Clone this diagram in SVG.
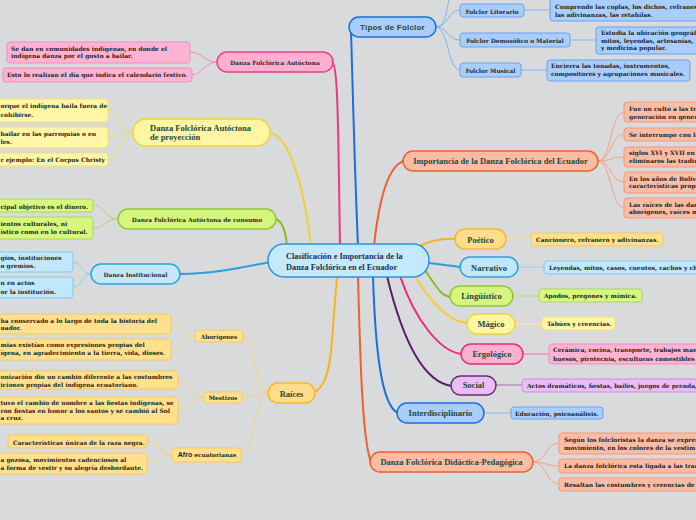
<svg xmlns="http://www.w3.org/2000/svg" width="696" height="520" viewBox="0 0 696 520">
<style>
.t{font-family:"Liberation Serif",serif;font-weight:bold;font-size:8.5px;fill:#1d4a3a}
.c{font-family:"Liberation Serif",serif;font-weight:bold;font-size:8.3px;fill:#1e2f4f}
.s{font-family:"DejaVu Serif",serif;font-weight:bold;font-size:5.8px;fill:#2a2a2a}
.l{font-family:"DejaVu Serif",serif;font-weight:bold;font-size:5.95px;fill:#222}
.ss{font-family:"Liberation Sans",Arial,sans-serif;font-weight:bold;font-size:7px;fill:#222}
.tp{font-family:"Liberation Sans",Arial,sans-serif;font-weight:bold;font-size:8px;fill:#1d4a3a;letter-spacing:0.2px}
.e{text-anchor:end}
.m{text-anchor:middle}
.cn path{fill:none}
.main{stroke-width:2}
.thin{stroke-width:1}
.pk{fill:#ffb0d0;stroke:#ee3c84;stroke-width:1.5}
.pkl{fill:#ffb3d3;stroke:#f48cbc;stroke-width:1}
.yl{fill:#fff5a5;stroke:#f0d53a;stroke-width:1.5}
.yll{fill:#fff6a8;stroke:#f4e070;stroke-width:1}
.gr{fill:#d5f57c;stroke:#8fc63e;stroke-width:1.5}
.grl{fill:#d7f77e;stroke:#acd858;stroke-width:1}
.lb{fill:#c2e7fb;stroke:#2aa3e0;stroke-width:1.5}
.lbl{fill:#c2e7fb;stroke:#7fcaf0;stroke-width:1}
.go{fill:#ffdd8a;stroke:#f6b828;stroke-width:1.5}
.gol{fill:#ffe08c;stroke:#f7c860;stroke-width:1}
.bl{fill:#a9cdfc;stroke:#1c6fe0;stroke-width:1.5}
.bll{fill:#a9cdfc;stroke:#6aa2f0;stroke-width:1}
.sa{fill:#fbbca6;stroke:#f0602c;stroke-width:1.5}
.sal{fill:#fbbca6;stroke:#f3987a;stroke-width:1}
.pu{fill:#ecbcf8;stroke:#6a2a7a;stroke-width:1.5}
.pul{fill:#ecbcf8;stroke:#c690e0;stroke-width:1}
.mp{fill:#ffb0d0;stroke:#f0287a;stroke-width:1.5}
</style>
<rect x="0" y="0" width="696" height="520" fill="#d9dadc"/>

<g id="connectors" class="cn">
  <path class="main" stroke="#ec3a80" d="M332,62 C338,64 338,120 340,246"/>
  <path class="main" stroke="#f0d030" d="M270,133 C285,135 302,170 311,246"/>
  <path class="main" stroke="#8ab82c" d="M276,219 C283,222 286,232 287,247"/>
  <path class="main" stroke="#2a9fe0" d="M180,274 C210,274 240,268 270,262"/>
  <path class="main" stroke="#1a6ee0" d="M351,30 C353,100 355,180 358,246"/>
  <path class="main" stroke="#f0602c" d="M404,161 C390,165 380,190 374,246"/>
  <path class="main" stroke="#f5b520" d="M420,246 C432,240 442,238 456,239"/>
  <path class="main" stroke="#2a9fe0" d="M427,263 C440,264 450,266 461,267"/>
  <path class="main" stroke="#8ab82c" d="M424,269 C436,285 440,296 451,297"/>
  <path class="main" stroke="#f0d030" d="M414,275 C430,300 447,322 468,323"/>
  <path class="main" stroke="#f0287a" d="M400,276 C415,320 440,352 462,354"/>
  <path class="main" stroke="#5a1c6a" d="M387,276 C400,330 420,382 452,386"/>
  <path class="main" stroke="#1a6ee0" d="M373,276 C375,340 380,405 398,413"/>
  <path class="main" stroke="#f0602c" d="M358,276 C360,350 362,440 371,462"/>
  <path class="main" stroke="#f5b520" d="M314,392 C325,388 330,370 332,340 L337,276"/>
  <path class="thin" stroke="#f090b8" d="M217,62 C205,62 202,52 190,52 M217,62 C205,62 202,75 191,75"/>
  <path class="thin" stroke="#eedc70" d="M133,133 C120,133 120,110 108,110 M133,133 C120,133 120,137 108,137 M133,133 C120,133 120,160 108,160"/>
  <path class="thin" stroke="#b5d66a" d="M118,219 C105,219 105,205 93,205 M118,219 C105,219 105,228 93,228"/>
  <path class="thin" stroke="#8ccdf0" d="M91,274 C82,274 82,262 73,262 M91,274 C82,274 82,287 73,287"/>
  <path class="thin" stroke="#f7d27a" d="M268,393 C255,393 255,336 243,336 M268,393 C255,393 254,397 242,397 M268,393 C255,393 253,455 241,455"/>
  <path class="thin" stroke="#f7d27a" d="M195,336 C183,336 183,324 171,324 M195,336 C183,336 183,350 171,350"/>
  <path class="thin" stroke="#f7d27a" d="M204,397 C191,397 191,380 178,380 M204,397 C191,397 191,410 178,410"/>
  <path class="thin" stroke="#f7d27a" d="M172,455 C160,455 160,441 147,441 M172,455 C160,455 160,463 147,463"/>
  <path class="thin" stroke="#7fb2ef" d="M436,27 C448,27 448,10 460,10 M436,27 C448,27 448,40 460,40 M436,27 C448,27 448,70 460,70 M436,27 C446,27 446,10 450,-4"/>
  <path stroke="#9cc4f0" stroke-width="1.5" d="M524,10 L550,10 M570,40 L596,40 M521,70 L547,70"/>
  <path class="thin" stroke="#f5a080" d="M598,161 C611,161 611,112 624,112 M598,161 C611,161 611,134 624,134 M598,161 C611,161 611,157 624,157 M598,161 C611,161 611,182 624,182 M598,161 C611,161 611,208 624,208"/>
  <path class="thin" stroke="#f5a080" d="M533,462 C546,462 546,443 559,443 M533,462 C546,462 546,466 559,466 M533,462 C546,462 546,484 559,484"/>
  <path stroke="#f1d9a0" stroke-width="1.5" d="M506,239 L531,239"/>
  <path stroke="#a8d4ee" stroke-width="1.5" d="M518,267 L544,267"/>
  <path stroke="#c2dc9a" stroke-width="1.5" d="M513,296 L539,296"/>
  <path stroke="#f2e6a8" stroke-width="1.5" d="M515,324 L542,324"/>
  <path stroke="#f090b8" stroke-width="1.5" d="M523,354 L549,354"/>
  <path stroke="#a070b0" stroke-width="1" d="M496,385 L522,385"/>
  <path stroke="#8cb6ee" stroke-width="1" d="M484,413 L511,413"/>
</g>

<g id="central">
  <rect x="268" y="244" width="161" height="33" rx="16" fill="#c4e8fc" stroke="#2a93dc" stroke-width="1.5"/>
  <text class="c" x="286" y="258.5">Clasificación e Importancia de la</text>
  <text class="c" x="286" y="269.5">Danza Folclórica en el Ecuador</text>
</g>

<g id="autoctona">
  <rect class="pk" x="217" y="52" width="116" height="20" rx="10"/>
  <text class="s m" x="275" y="64.5">Danza Folclórica Autóctona</text>
</g>
<g id="autoctona-l1">
  <rect class="pkl" x="7" y="42" width="183" height="21" rx="3"/>
  <text class="l" x="11" y="50.5">Se dan en comunidades indígenas, en donde el</text>
  <text class="l" x="11" y="58">indígena danza por el gusto a bailar.</text>
</g>
<g id="autoctona-l2">
  <rect class="pkl" x="3" y="68" width="189" height="14" rx="3"/>
  <text class="l" x="7" y="77">Esto lo realizan el día que indica el calendario festivo.</text>
</g>

<g id="proyeccion">
  <rect class="yl" x="133" y="119" width="137" height="27" rx="13"/>
  <text class="t" x="150" y="130.5">Danza Folclórica Autóctona</text>
  <text class="t" x="150" y="139.5">de proyección</text>
</g>
<g id="proyeccion-l1">
  <rect class="yll" x="-5" y="99" width="113" height="23" rx="3"/>
  <text class="l" x="0.5" y="108">orque el indígena baila fuera de</text>
  <text class="l" x="0.5" y="116.5">cohibirse.</text>
</g>
<g id="proyeccion-l2">
  <rect class="yll" x="-5" y="127" width="113" height="21" rx="3"/>
  <text class="l" x="0.5" y="135.5">bailar en las parroquias o en</text>
  <text class="l" x="0.5" y="143.5">les.</text>
</g>
<g id="proyeccion-l3">
  <rect class="yll" x="-5" y="153" width="113" height="13" rx="3"/>
  <text class="l" x="0.5" y="162">r ejemplo: En el Corpus Christy</text>
</g>

<g id="consumo">
  <rect class="gr" x="118" y="209" width="158" height="20" rx="10"/>
  <text class="s m" x="197" y="221.5">Danza Folclórica Autóctona de consumo</text>
</g>
<g id="consumo-l1">
  <rect class="grl" x="-5" y="199" width="98" height="13" rx="3"/>
  <text class="l" x="0.5" y="208.5">cipal objetivo es el dinero.</text>
</g>
<g id="consumo-l2">
  <rect class="grl" x="-5" y="217" width="98" height="22" rx="3"/>
  <text class="l" x="0.5" y="226">ientos culturales, ni</text>
  <text class="l" x="0.5" y="233.5">ístico como en lo cultural.</text>
</g>

<g id="institucional">
  <rect class="lb" x="91" y="264" width="89" height="20" rx="10"/>
  <text class="s m" x="135.5" y="276.5">Danza Institucional</text>
</g>
<g id="institucional-l1">
  <rect class="lbl" x="-5" y="252" width="78" height="20" rx="3"/>
  <text class="l" x="0.5" y="259.5">gios, instituciones</text>
  <text class="l" x="0.5" y="267.5">o gremios.</text>
</g>
<g id="institucional-l2">
  <rect class="lbl" x="-5" y="277" width="78" height="21" rx="3"/>
  <text class="l" x="0.5" y="285">n en actos</text>
  <text class="l" x="0.5" y="293.5">or la institución.</text>
</g>

<g id="raices">
  <rect class="go" x="268" y="383" width="47" height="20" rx="10"/>
  <text class="t m" x="291.5" y="396.5">Raíces</text>
</g>
<g id="aborigenes">
  <rect class="gol" x="195" y="330" width="48" height="12" rx="3"/>
  <text class="s m" x="219" y="339">Aborígenes</text>
</g>
<g id="aborigenes-l1">
  <rect class="gol" x="-5" y="314" width="176" height="20" rx="3"/>
  <text class="l" x="0.5" y="322.5">ha conservado a lo largo de toda la historia del</text>
  <text class="l" x="0.5" y="330">uador.</text>
</g>
<g id="aborigenes-l2">
  <rect class="gol" x="-5" y="339" width="176" height="21" rx="3"/>
  <text class="l" x="0.5" y="347">mias existían como expresiones propias del</text>
  <text class="l" x="0.5" y="355">ígena, en agradecimiento a la tierra, vida, dioses.</text>
</g>
<g id="mestizos">
  <rect class="gol" x="204" y="392" width="38" height="11" rx="3"/>
  <text class="s m" x="223" y="400">Mestizos</text>
</g>
<g id="mestizos-l1">
  <rect class="gol" x="-5" y="371" width="183" height="18" rx="3"/>
  <text class="l" x="0.5" y="379">onización dio un cambio diferente a las costumbres</text>
  <text class="l" x="0.5" y="386.5">iciones propias del indígena ecuatoriano.</text>
</g>
<g id="mestizos-l2">
  <rect class="gol" x="-5" y="397" width="183" height="27" rx="3"/>
  <text class="l" x="0.5" y="404.5">tuvo el cambio de nombre a las fiestas indígenas, se</text>
  <text class="l" x="0.5" y="412.5">ron fiestas en honor a los santos y se cambió al Sol</text>
  <text class="l" x="0.5" y="420">a cruz.</text>
</g>
<g id="afro">
  <rect class="gol" x="172" y="448" width="69" height="14" rx="3"/>
  <text class="s m" x="207" y="457"><tspan class="ss">Afro</tspan> ecuatorianas</text>
</g>
<g id="afro-l1">
  <rect class="gol" x="8" y="435" width="139" height="13" rx="3"/>
  <text class="l" x="13" y="444.5">Características únicas de la raza negra.</text>
</g>
<g id="afro-l2">
  <rect class="gol" x="-5" y="453" width="152" height="21" rx="3"/>
  <text class="l" x="0.5" y="462">a gozosa, movimientos cadenciosos al</text>
  <text class="l" x="0.5" y="470">a forma de vestir y su alegría desbordante.</text>
</g>

<g id="tipos">
  <rect class="bl" x="349" y="17" width="87" height="20" rx="10"/>
  <text class="tp m" x="392.5" y="30">Tipos de Folclor</text>
</g>
<g id="literario">
  <rect class="bll" x="460" y="4" width="64" height="13" rx="3"/>
  <text class="s m" x="492" y="13.5">Folclor Literario</text>
</g>
<g id="literario-l">
  <rect class="bll" x="550" y="-3" width="160" height="24" rx="3"/>
  <text class="l" x="555" y="9.3">Comprende las coplas, los dichos, refranes,</text>
  <text class="l" x="555" y="16.7">las adivinanzas, las retahílas.</text>
</g>
<g id="demosofico">
  <rect class="bll" x="460" y="33" width="110" height="14" rx="3"/>
  <text class="s m" x="515" y="42.7">Folclor Demosófico o Material</text>
</g>
<g id="demosofico-l">
  <rect class="bll" x="596" y="27" width="120" height="27" rx="3"/>
  <text class="l" x="601" y="35.3">Estudia la ubicación geográfi</text>
  <text class="l" x="601" y="42.7">mitos, leyendas, artesanías,</text>
  <text class="l" x="601" y="50.2">y medicina popular.</text>
</g>
<g id="musical">
  <rect class="bll" x="460" y="63" width="61" height="14" rx="3"/>
  <text class="s m" x="490.5" y="72.7">Folclor Musical</text>
</g>
<g id="musical-l">
  <rect class="bll" x="547" y="60" width="143" height="21" rx="3"/>
  <text class="l" x="551" y="68.3">Encierra las tonadas, instrumentos,</text>
  <text class="l" x="551" y="76">compositores y agrupaciones musicales.</text>
</g>

<g id="importancia">
  <rect class="sa" x="403" y="151" width="195" height="20" rx="10"/>
  <text class="t m" x="500.5" y="164">Importancia de la Danza Folclórica del Ecuador</text>
</g>
<g id="importancia-l1">
  <rect class="sal" x="624" y="102" width="100" height="20" rx="3"/>
  <text class="l" x="629" y="110.5">Fue un culto a las tra</text>
  <text class="l" x="629" y="118.5">generación en gener</text>
</g>
<g id="importancia-l2">
  <rect class="sal" x="624" y="128" width="100" height="13" rx="3"/>
  <text class="l" x="629" y="136.5">Se interrumpe con la</text>
</g>
<g id="importancia-l3">
  <rect class="sal" x="624" y="147" width="100" height="20" rx="3"/>
  <text class="l" x="629" y="155">siglos XVI y XVII en</text>
  <text class="l" x="629" y="162.5">eliminaros las tradic</text>
</g>
<g id="importancia-l4">
  <rect class="sal" x="624" y="172" width="100" height="21" rx="3"/>
  <text class="l" x="629" y="180.7">En los años de Boliva</text>
  <text class="l" x="629" y="188.3">características propi</text>
</g>
<g id="importancia-l5">
  <rect class="sal" x="624" y="198" width="100" height="20" rx="3"/>
  <text class="l" x="629" y="206.7">Las raíces de las dan</text>
  <text class="l" x="629" y="214.3">aborígenes, raíces m</text>
</g>

<g id="poetico">
  <rect class="go" x="455" y="229" width="51" height="20" rx="10"/>
  <text class="t m" x="480.5" y="242.5">Poético</text>
</g>
<g id="poetico-l">
  <rect class="gol" x="531" y="233" width="132" height="13" rx="3"/>
  <text class="l" x="536" y="242">Cancionero, refranero y adivinanzas.</text>
</g>
<g id="narrativo">
  <rect class="lb" x="460" y="257" width="58" height="20" rx="10"/>
  <text class="t m" x="489" y="270.5">Narrativo</text>
</g>
<g id="narrativo-l">
  <rect class="lbl" x="544" y="261" width="160" height="13" rx="3"/>
  <text class="l" x="549" y="270">Leyendas, mitos, casos, cuentos, cachos y ch</text>
</g>
<g id="linguistico">
  <rect class="gr" x="450" y="286" width="63" height="20" rx="10"/>
  <text class="t m" x="481.5" y="298.7">Lingüístico</text>
</g>
<g id="linguistico-l">
  <rect class="grl" x="539" y="289" width="103" height="13" rx="3"/>
  <text class="l" x="544" y="298">Apodos, pregones y mímica.</text>
</g>
<g id="magico">
  <rect class="yl" x="467" y="314" width="48" height="20" rx="10"/>
  <text class="t m" x="491" y="327">Mágico</text>
</g>
<g id="magico-l">
  <rect class="yll" x="542" y="317" width="73" height="13" rx="3"/>
  <text class="l" x="547" y="326.3">Tabúes y creencias.</text>
</g>
<g id="ergologico">
  <rect class="mp" x="461" y="344" width="62" height="20" rx="10"/>
  <text class="t m" x="492" y="357">Ergológico</text>
</g>
<g id="ergologico-l">
  <rect class="pkl" x="549" y="344" width="160" height="20" rx="3"/>
  <text class="l" x="553" y="352.3">Cerámica, cocina, transporte, trabajos man</text>
  <text class="l" x="553" y="360.5">huesos, pirotecnia, esculturas comestibles</text>
</g>
<g id="social">
  <rect class="pu" x="451" y="376" width="45" height="19" rx="9.5"/>
  <text class="t m" x="473.5" y="388">Social</text>
</g>
<g id="social-l">
  <rect class="pul" x="522" y="379" width="180" height="13" rx="3"/>
  <text class="l" x="527" y="387.5">Actos dramáticos, fiestas, bailes, juegos de prenda,</text>
</g>
<g id="interdisciplinario">
  <rect class="bl" x="397" y="403" width="87" height="20" rx="10"/>
  <text class="t m" x="440.5" y="416">Interdisciplinario</text>
</g>
<g id="interdisciplinario-l">
  <rect class="bll" x="511" y="407" width="92" height="12" rx="3"/>
  <text class="l" x="515" y="415.5">Educación, psicoanálisis.</text>
</g>

<g id="didactica">
  <rect class="sa" x="370" y="452" width="163" height="20" rx="10"/>
  <text class="t m" x="451.5" y="465">Danza Folclórica Didáctica-Pedagógica</text>
</g>
<g id="didactica-l1">
  <rect class="sal" x="559" y="433" width="150" height="21" rx="3"/>
  <text class="l" x="564" y="442">Según los folcloristas la danza se expres</text>
  <text class="l" x="564" y="449.7">movimiento, en los colores de la vestim</text>
</g>
<g id="didactica-l2">
  <rect class="sal" x="559" y="459" width="150" height="14" rx="3"/>
  <text class="l" x="564" y="468">La danza folclórica esta ligada a las trad</text>
</g>
<g id="didactica-l3">
  <rect class="sal" x="559" y="478" width="150" height="13" rx="3"/>
  <text class="l" x="564" y="486.5">Resaltan las costumbres y creencias de</text>
</g>
</svg>
